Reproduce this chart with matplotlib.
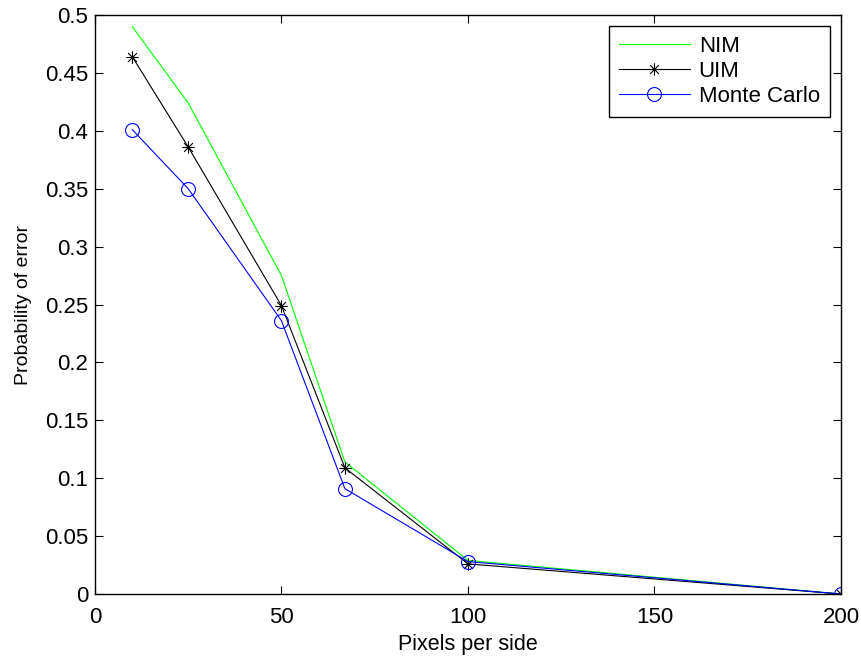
import matplotlib
matplotlib.use("Agg")
import matplotlib.pyplot as plt
from matplotlib.path import Path

# pixels per side and error probabilities
pixels = [10, 25, 50, 67, 100, 200]
nim = [0.490, 0.424, 0.275, 0.114, 0.029, 0.0]
uim = [0.464, 0.386, 0.249, 0.109, 0.026, 0.0]
monte_carlo = [0.401, 0.350, 0.236, 0.091, 0.028, 0.0]

x_ticks = [0, 50, 100, 150, 200]
y_ticks = [0, 0.05, 0.1, 0.15, 0.2, 0.25, 0.3, 0.35, 0.4, 0.45, 0.5]
y_tick_labels = ['0', '0.05', '0.1', '0.15', '0.2', '0.25', '0.3', '0.35', '0.4', '0.45', '0.5']

plt.rcParams['font.family'] = ['Liberation Sans', 'DejaVu Sans']

# MATLAB style asterisk: a plus and a cross on top of each other
d = 0.7071
asterisk = Path([(-1, 0), (1, 0), (0, -1), (0, 1), (-d, -d), (d, d), (-d, d), (d, -d)],
                [Path.MOVETO, Path.LINETO] * 4)

fig = plt.figure(figsize=(8.61, 6.56), dpi=100)
ax = fig.add_axes([0.1103, 0.0945, 0.8664, 0.8826])

ax.plot(pixels, nim, color=(0, 1, 0), lw=0.8, label='NIM')
ax.plot(pixels, uim, color='black', lw=0.8, marker=asterisk, markersize=9,
        markeredgewidth=0.8, label='UIM')
ax.plot(pixels, monte_carlo, color='blue', lw=0.8, marker='o', markersize=10,
        markerfacecolor='none', markeredgewidth=0.8, label='Monte Carlo')

ax.set_xlim(0, 200)
ax.set_ylim(0, 0.5)
ax.set_xticks(x_ticks)
ax.set_yticks(y_ticks)
ax.set_xticklabels([str(v) for v in x_ticks])
ax.set_yticklabels(y_tick_labels)
ax.tick_params(direction='in', top=True, right=True, length=5.5, width=0.8, labelsize=16)
ax.tick_params(axis='x', pad=9)
ax.tick_params(axis='y', pad=5)
for s in ax.spines.values():
    s.set_linewidth(1.0)

ax.set_xlabel('Pixels per side', fontsize=15.5, labelpad=5)
ax.set_ylabel('Probability of error', fontsize=14, labelpad=9)

leg = ax.legend(loc='upper right', fontsize=16, handlelength=3.2, fancybox=False,
                edgecolor='black', framealpha=1, borderaxespad=0.5, labelspacing=0.18,
                handletextpad=0.4, borderpad=0.45)
leg.get_frame().set_linewidth(1.0)

fig.savefig('out.png', dpi=100)
